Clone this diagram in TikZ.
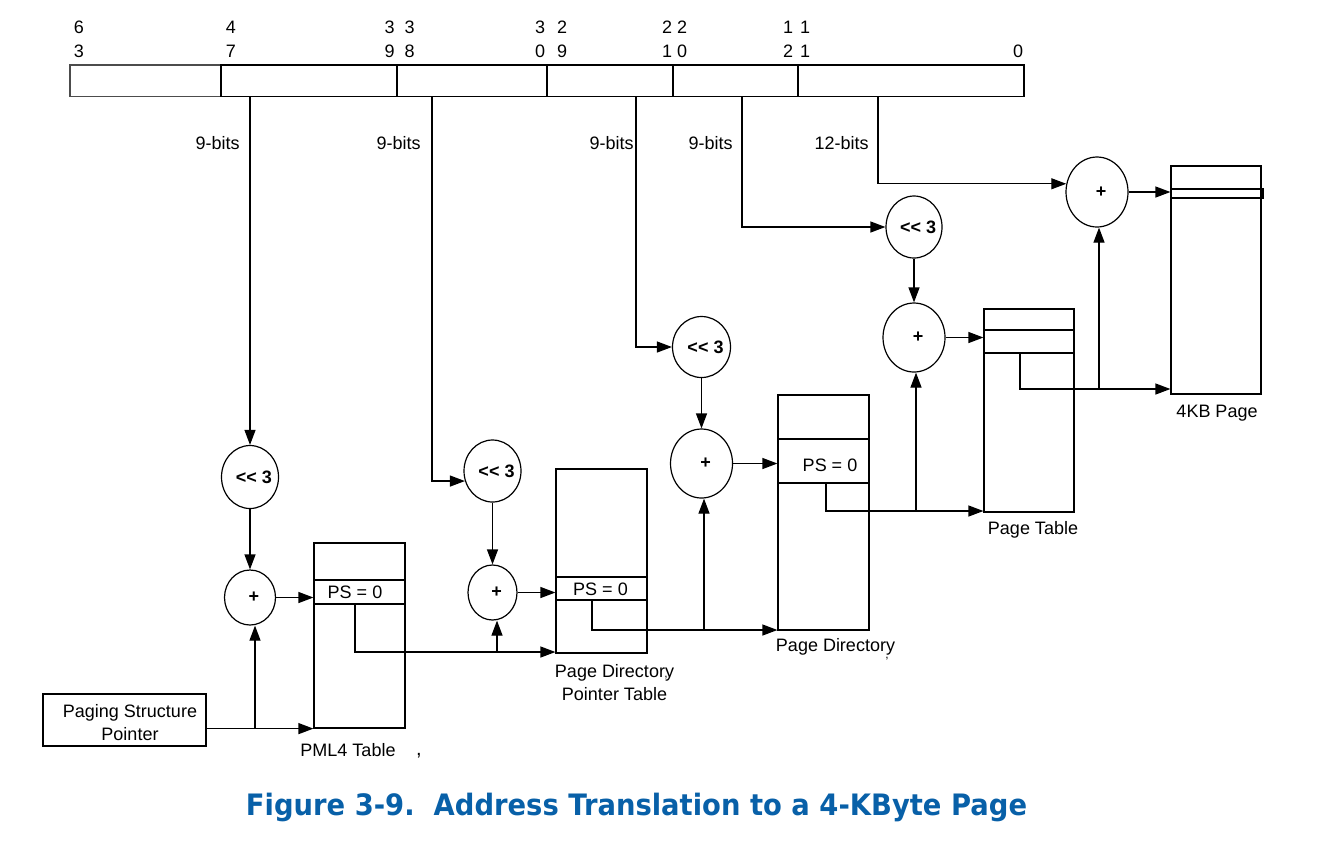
\documentclass[tikz,border=0pt]{standalone}
\usepackage{fontspec}
\usepackage{graphicx}
\setmainfont{Liberation Sans}
\newfontfamily\capfont{DejaVu Sans}
\usetikzlibrary{arrows.meta,shapes.geometric}
\definecolor{capblue}{RGB}{8,96,168}
\newcommand\myshift{\bfseries <\kern0pt<\kern0pt\ 3}
\newcommand\myoff[1]{\makebox[0pt]{\hspace*{4pt}#1}}
\begin{document}
\begin{tikzpicture}[x=0.5pt,y=-0.5pt,
  every node/.style={font=\fontsize{9}{11.5}\selectfont, inner sep=0pt},
  ln/.style={line width=0.6pt},
  arr/.style={line width=0.6pt,-{Triangle[length=7.5pt,width=5.5pt]}},
  fld/.style={draw, line width=0.6pt, minimum height=15.75pt},
  tbl/.style={draw, line width=0.6pt},
  ent/.style={draw, line width=0.6pt},
  shl/.style={draw, ellipse, line width=0.6pt},
  bit/.style={align=center, font=\fontsize{9}{12}\selectfont},
  lbl/.style={align=center},
  capstyle/.style={text=capblue, anchor=base}]
\useasboundingbox (0,0) rectangle (1320,842);

% register
\node[fld, minimum width=75.5pt, draw=black!70, line width=0.9pt] (f63) at (145.5,80.75) {};
\node[fld, minimum width=88pt] (f47) at (309,80.75) {};
\node[fld, minimum width=75pt] (f38) at (472,80.75) {};
\node[fld, minimum width=63pt] (f29) at (610,80.75) {};
\node[fld, minimum width=62.5pt] (f20) at (735.5,80.75) {};
\node[fld, minimum width=113pt] (f11) at (911,80.75) {};

% bit numbers
\node[bit] (b63) at (79,39.5) {6\\3};
\node[bit] (b47) at (231,39.5) {4\\7};
\node[bit] (b39) at (389.5,39.5) {3\\9};
\node[bit] (b38) at (409.5,39.5) {3\\8};
\node[bit] (b30) at (540,39.5) {3\\0};
\node[bit] (b29) at (562,39.5) {2\\9};
\node[bit] (b21) at (667,39.5) {2\\1};
\node[bit] (b20) at (682,39.5) {2\\0};
\node[bit] (b12) at (788,39.5) {1\\2};
\node[bit] (b11) at (805,39.5) {1\\1};
\node[bit] (b0) at (1018,51.5) {0};

% taps
\coordinate (t1) at (250,96.5);
\coordinate (t2) at (432,96.5);
\coordinate (t3) at (636,96.5);
\coordinate (t4) at (742,96.5);
\coordinate (t5) at (878,96.5);

% bit count labels
\node[anchor=east] (l1) at (240,143) {9-bits};
\node[anchor=east] (l2) at (421,143) {9-bits};
\node[anchor=east] (l3) at (634,143) {9-bits};
\node[anchor=east] (l4) at (733,143) {9-bits};
\node[anchor=east] (l5) at (869,143) {12-bits};

% shift and add circles
\node[shl, minimum width=28.5pt, minimum height=31.5pt] (s1) at (250,477) {\myoff{\myshift}};
\node[shl, minimum width=25.5pt, minimum height=27.5pt] (p1) at (250,597.5) {\myoff{\bfseries +}};
\node[shl, minimum width=28.5pt, minimum height=31pt] (s2) at (492.5,471) {\myoff{\myshift}};
\node[shl, minimum width=24.5pt, minimum height=27.5pt] (p2) at (492.5,592.5) {\myoff{\bfseries +}};
\node[shl, minimum width=29pt, minimum height=30.5pt] (s3) at (701.5,347) {\myoff{\myshift}};
\node[shl, minimum width=31pt, minimum height=34.5pt] (p3) at (701.5,463.5) {\myoff{\bfseries +}};
\node[shl, minimum width=28pt, minimum height=31pt] (s4) at (914,227) {\myoff{\myshift}};
\node[shl, minimum width=31pt, minimum height=34.5pt] (p4) at (914,337.5) {\myoff{\bfseries +}};
\node[shl, minimum width=31pt, minimum height=35pt] (p5) at (1097,192) {\myoff{\bfseries +}};

% tables
\node[tbl, minimum width=45.5pt, minimum height=92.5pt] (pml4) at (359.5,635.5) {};
\node[ent, minimum width=45.5pt, minimum height=12pt] (pml4e) at (359.5,592) {};
\node (pml4t) at (355,592.5) {PS = 0};

\node[tbl, minimum width=45.5pt, minimum height=92pt] (pdpt) at (601.5,561) {};
\node[ent, minimum width=45.5pt, minimum height=11.5pt] (pdpte) at (601.5,588.5) {};
\node (pdptt) at (600.5,589) {PS = 0};

\node[tbl, minimum width=45.5pt, minimum height=117.5pt] (pd) at (823.5,512.5) {};
\node[ent, minimum width=45.5pt, minimum height=22pt] (pde) at (823.5,461) {};
\node (pdt) at (830,465) {PS = 0};

\node[tbl, minimum width=45pt, minimum height=101.5pt] (pt) at (1029,410.5) {};
\node[ent, minimum width=45pt, minimum height=11.5pt] (pte) at (1029,341.5) {};

\node[tbl, minimum width=45pt, minimum height=114pt] (kb) at (1216,280) {};
\node[ent, minimum width=46pt, minimum height=4.5pt] (kbe) at (1217,193.5) {};

% pointer box
\node[draw, line width=0.6pt, minimum width=81.5pt, minimum height=26pt] (psp) at (124.5,720) {};
\node[lbl] (pspt) at (130,723) {Paging Structure\\Pointer};

% table labels
\node (pml4l) at (348,750) {PML4 Table};
\node (c1) at (419,756) {\fontsize{10}{10}\selectfont ,};
\node[lbl] (pdptl) at (614.5,682.5) {Page Directory\\Pointer Table};
\node (c2) at (666,678) {\fontsize{6}{6}\selectfont ,};
\node (pdl) at (835.5,647) {Page Directory};
\node (c3) at (887,659) {\fontsize{6}{6}\selectfont ,};
\node (ptl) at (1033,530) {Page Table};
\node (kbl) at (1217,413) {4KB Page};

% junction / output coordinates
\coordinate (j1) at (255,728);
\coordinate (o1) at (355,604);
\coordinate (j2) at (497,652);
\coordinate (o2) at (592,600);
\coordinate (j3) at (704,630);
\coordinate (o3) at (826,483);
\coordinate (j4) at (916,511);
\coordinate (o4) at (1020,353);
\coordinate (j5) at (1099,389);

% level 1
\draw[arr] (t1) -- (s1);
\draw[arr] (s1) -- (p1);
\draw[arr] (p1) -- (p1 -| pml4.west);
\draw[arr] (pml4.south west -| psp.east) -- (pml4.south west);
\draw[arr] (j1) -- (j1 |- p1.south);
% level 2
\draw[arr] (t2) |- (s2.200);
\draw[arr] (s2) -- (p2);
\draw[arr] (p2) -- (p2 -| pdpt.west);
\draw[arr] (o1) |- (pdpt.west |- j2);
\draw[arr] (j2) -- (j2 |- p2.south);
% level 3
\draw[arr] (t3) |- (s3.west);
\draw[arr] (s3) -- (p3);
\draw[arr] (p3) -- (p3 -| pd.west);
\draw[arr] (o2) |- (pd.west |- j3);
\draw[arr] (j3) -- (j3 |- p3.south);
% level 4
\draw[arr] (t4) |- (s4.west);
\draw[arr] (s4) -- (p4);
\draw[arr] (p4) -- (p4 -| pt.west);
\draw[arr] (o3) |- (pt.west |- j4);
\draw[arr] (j4) -- (j4 |- p4.south);
% page
\draw[arr] (t5) |- (p5.165);
\draw[arr] (p5) -- (p5 -| kb.west);
\draw[arr] (o4) |- (kb.west |- j5);
\draw[arr] (j5) -- (j5 |- p5.south);

% caption
\node[capstyle] (capt) at (636.5,815) {\resizebox{390.5pt}{11.2pt}{\capfont\bfseries Figure 3-9.\ \ Address Translation to a 4-KByte Page}};
\end{tikzpicture}
\end{document}
